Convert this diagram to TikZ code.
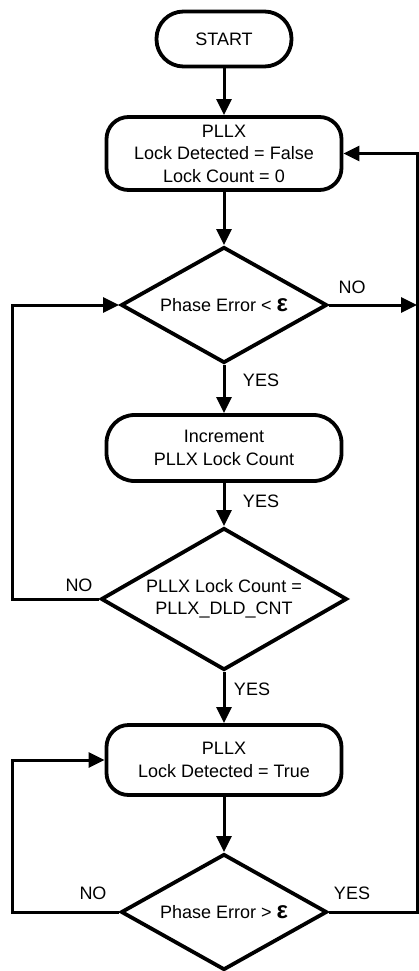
\documentclass[tikz,border=0pt]{standalone}
\usepackage{fontspec}
\setmainfont{Liberation Sans}
\usetikzlibrary{shapes.geometric,arrows.meta}
\newcommand{\epsgl}{{\fontsize{24}{22}\selectfont\bfseries ε}}
\tikzstyle{startstop} = [draw=black, line width=3.8pt, rectangle, rounded corners=27pt,
    minimum width=135pt, minimum height=55pt, align=center, inner sep=0pt]
\tikzstyle{process} = [draw=black, line width=3.8pt, rectangle, rounded corners=22pt,
    minimum width=235pt, align=center, inner sep=0pt]
\tikzstyle{decision} = [draw=black, line width=3.8pt, diamond, aspect=1.73,
    inner sep=0pt, align=center]
\tikzstyle{answer} = [inner sep=0pt]
\tikzstyle{arrow} = [line width=3pt,->,>={Triangle[length=16pt,width=15pt]}]

\begin{document}
\begin{tikzpicture}[x=1pt, y=-1pt, font=\fontsize{18}{22.5}\selectfont]
\useasboundingbox (0,0) rectangle (419,971);
\coordinate (ll) at (12,0);
\coordinate (rr) at (417,0);

\node[startstop] (start) at (224,39) {START};
\node[process, minimum height=73pt] (init) at (224,153.5) {PLLX\\Lock Detected = False\\Lock Count = 0};
\node[decision, minimum width=206pt, minimum height=116pt] (check1) at (224,305) {Phase Error < \epsgl};
\node[process, minimum height=66pt, rounded corners=28pt] (incr) at (224,448) {Increment\\PLLX Lock Count};
\node[decision, minimum width=246pt, minimum height=142pt] (check2) at (224,599) {PLLX Lock Count =\\PLLX\_DLD\_CNT};
\node[process, minimum height=70pt] (locked) at (224,760) {PLLX\\Lock Detected = True};
\node[decision, minimum width=206pt, minimum height=116pt] (check3) at (224,912) {Phase Error > \epsgl};

\node[answer] (no1) at (352,287) {NO};
\node[answer] (yes1) at (261,380) {YES};
\node[answer] (yes2) at (261,501) {YES};
\node[answer] (no2) at (79,585) {NO};
\node[answer] (yes3) at (252,689) {YES};
\node[answer] (no3) at (93,893) {NO};
\node[answer] (yes4) at (352,893) {YES};

\draw[arrow] (start) -- (init);
\draw[arrow] (init) -- (check1);
\draw[arrow] (check1) -- (incr);
\draw[arrow] (incr) -- (check2);
\draw[arrow] (check2) -- (locked);
\draw[arrow] (locked) -- (check3);
\draw[arrow] (check1.east) -- (check1.east -| rr);
\draw[arrow] (check2.west) -| (ll |- check1.west) -- (check1.west);
\draw[arrow] (check3.west) -| (ll |- locked.west) -- (locked.west);
\draw[arrow] (check3.east) -| (rr |- init.east) -- (init.east);
\end{tikzpicture}
\end{document}
